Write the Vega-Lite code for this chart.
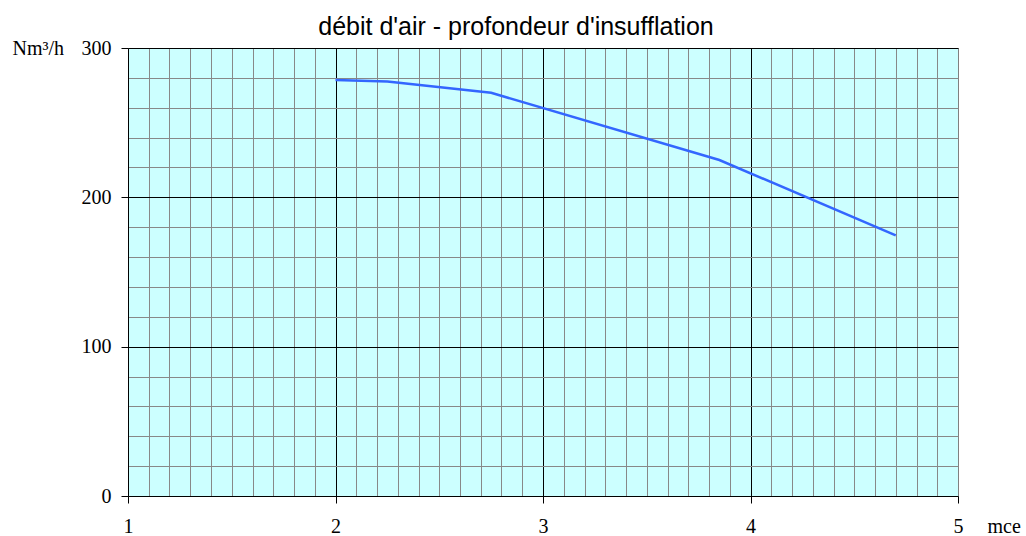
{
  "$schema": "https://vega.github.io/schema/vega-lite/v6.json",
  "autosize": {"type": "none"},
  "padding": {"left": 128, "top": 48, "right": 68, "bottom": 40},
  "width": 830,
  "height": 448,
  "background": "white",
  "view": {"fill": "#ccffff", "stroke": "#808080"},
  "title": {
    "text": "débit d'air - profondeur d'insufflation",
    "font": "Liberation Sans",
    "fontSize": 25,
    "fontWeight": "normal",
    "color": "black",
    "anchor": "middle",
    "dx": -27,
    "offset": -2
  },
  "data": {
    "values": [
      {"mce": 2.0, "debit": 278.5},
      {"mce": 2.25, "debit": 277.5},
      {"mce": 2.75, "debit": 270},
      {"mce": 3.85, "debit": 225},
      {"mce": 4.7, "debit": 174.5}
    ]
  },
  "resolve": {"axis": {"x": "independent", "y": "independent"}},
  "layer": [
    {
      "mark": {"type": "line", "opacity": 0},
      "encoding": {
        "x": {"field": "mce", "type": "quantitative", "scale": {"domain": [1, 5], "nice": false, "zero": false},
          "axis": {"orient": "bottom", "values": [1.1,1.2,1.3,1.4,1.5,1.6,1.7,1.8,1.9,2.1,2.2,2.3,2.4,2.5,2.6,2.7,2.8,2.9,3.1,3.2,3.3,3.4,3.5,3.6,3.7,3.8,3.9,4.1,4.2,4.3,4.4,4.5,4.6,4.7,4.8,4.9],
            "grid": true, "gridColor": "#888888", "gridOpacity": 1, "gridWidth": 1, "ticks": false, "labels": false, "domain": false, "title": null}},
        "y": {"field": "debit", "type": "quantitative", "scale": {"domain": [0, 300], "nice": false},
          "axis": {"orient": "left", "values": [20,40,60,80,120,140,160,180,220,240,260,280],
            "grid": true, "gridColor": "#888888", "gridOpacity": 1, "gridWidth": 1, "ticks": false, "labels": false, "domain": false, "title": null}}
      }
    },
    {
      "mark": {"type": "line", "opacity": 0},
      "encoding": {
        "x": {"field": "mce", "type": "quantitative",
          "axis": {"orient": "bottom", "values": [2, 3, 4], "grid": true, "gridColor": "black", "gridOpacity": 1, "gridWidth": 1, "ticks": false, "labels": false, "domain": false, "title": null}},
        "y": {"field": "debit", "type": "quantitative",
          "axis": {"orient": "left", "values": [100, 200, 300], "grid": true, "gridColor": "black", "gridOpacity": 1, "gridWidth": 1, "ticks": false, "labels": false, "domain": false, "title": null}}
      }
    },
    {
      "mark": {"type": "line", "color": "#3366ff", "strokeWidth": 2.5},
      "encoding": {
        "x": {"field": "mce", "type": "quantitative",
          "axis": {"orient": "bottom", "values": [1, 2, 3, 4, 5], "grid": false, "ticks": true, "tickSize": 7, "tickColor": "black", "domain": true, "domainColor": "black",
            "labels": true, "labelFont": "Liberation Serif", "labelFontSize": 20, "labelColor": "black", "labelPadding": 13, "labelFlush": false,
            "title": "mce", "titleFont": "Liberation Serif", "titleFontSize": 20, "titleFontWeight": "normal", "titleColor": "black",
            "titleAngle": 0, "titleAlign": "left", "titleBaseline": "top", "titleX": 859, "titleY": 20}},
        "y": {"field": "debit", "type": "quantitative",
          "axis": {"orient": "left", "values": [0, 100, 200, 300], "grid": false, "ticks": true, "tickSize": 7, "tickColor": "black", "domain": true, "domainColor": "black",
            "labels": true, "labelFont": "Liberation Serif", "labelFontSize": 20, "labelColor": "black", "labelPadding": 10, "labelFlush": false,
            "title": "Nm³/h", "titleFont": "Liberation Serif", "titleFontSize": 20, "titleFontWeight": "normal", "titleColor": "black",
            "titleAngle": 0, "titleAlign": "left", "titleBaseline": "middle", "titleX": -116, "titleY": 0}}
      }
    }
  ]
}
